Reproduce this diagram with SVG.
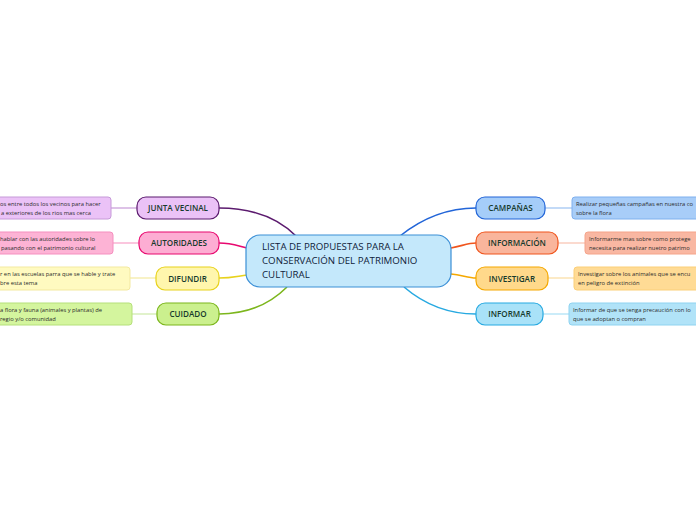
<svg xmlns="http://www.w3.org/2000/svg" width="696" height="520" viewBox="0 0 696 520">
<style>
.lbl{font-family:"Open Sans","Noto Sans","DejaVu Sans",sans-serif;font-size:8.1px;font-weight:600;fill:#163a2c;text-anchor:middle}
.main{font-family:"Open Sans","Noto Sans","DejaVu Sans",sans-serif;font-size:9.7px;font-weight:500;fill:#101c3a}
.leaf{font-family:"Open Sans","Noto Sans","DejaVu Sans",sans-serif;font-size:5.8px;fill:#2a2a2a}
.c{fill:none;stroke-width:1.6}
.lc{fill:none;stroke-width:1.2}
</style>
<rect width="696" height="520" fill="#ffffff"/>
<g id="connectors">
<path class="c" stroke="#5b1a6e" d="M219,208 C255,208 280,220 296,236"/>
<path class="c" stroke="#e8086f" d="M219,243 C232,243 238,246 247,248"/>
<path class="c" stroke="#e8d21c" d="M219,278 C232,278 238,276 247,275"/>
<path class="c" stroke="#7cb61c" d="M219,314 C250,314 272,302 287,287"/>
<path class="c" stroke="#2265d8" d="M400,236 C420,220 445,208 476,208"/>
<path class="c" stroke="#f0551d" d="M451,248 C462,246 468,243 476,243"/>
<path class="c" stroke="#f5a800" d="M451,274 C462,275 468,278 476,278"/>
<path class="c" stroke="#27a9e1" d="M404,287 C425,305 450,314 476,314"/>
<path class="lc" stroke="#c69ad8" d="M111,208 H137"/>
<path class="lc" stroke="#f8a0c8" d="M113,243 H139"/>
<path class="lc" stroke="#f3e9a0" d="M130,278 H156"/>
<path class="lc" stroke="#cde9a8" d="M132,314 H157"/>
<path class="lc" stroke="#9cc2f2" d="M545,208 H572"/>
<path class="lc" stroke="#f8c2b0" d="M558,243 H585"/>
<path class="lc" stroke="#fbdca0" d="M548,278 H574"/>
<path class="lc" stroke="#a8dff5" d="M543,314 H569"/>
</g>
<g id="central">
<rect x="246" y="235" width="205" height="52" rx="14" fill="#c4e8fb" stroke="#3b8fd6" stroke-width="1.2"/>
<text class="main" x="262" y="250">LISTA DE PROPUESTAS PARA LA</text>
<text class="main" x="262" y="264">CONSERVACIÓN DEL PATRIMONIO</text>
<text class="main" x="262" y="278">CULTURAL</text>
</g>
<g id="junta">
<rect x="137" y="197" width="82" height="22" rx="9" fill="#ebc2f7" stroke="#5b1a6e" stroke-width="1.2"/>
<text class="lbl" x="178" y="211">JUNTA VECINAL</text>
</g>
<g id="junta-leaf">
<rect x="-140" y="197" width="251" height="22" rx="3" fill="#ebc2f7" stroke="#c69ad8" stroke-width="1"/>
<text class="leaf" x="0" y="205.5">os entre todos los vecinos para hacer</text>
<text class="leaf" x="1" y="214.5">a exteriores de los rios mas cerca</text>
</g>
<g id="autoridades">
<rect x="139" y="232" width="80" height="22" rx="9" fill="#fdadd3" stroke="#e8086f" stroke-width="1.2"/>
<text class="lbl" x="179" y="246">AUTORIDADES</text>
</g>
<g id="autoridades-leaf">
<rect x="-140" y="232" width="253" height="22" rx="3" fill="#fdb3d5" stroke="#f58fbf" stroke-width="1"/>
<text class="leaf" x="0" y="240.5">hablar con las autoridades sobre lo</text>
<text class="leaf" x="1" y="249.5">pasando con el patrimonio cultural</text>
</g>
<g id="difundir">
<rect x="156" y="267" width="63" height="23" rx="9" fill="#fff6ad" stroke="#e8d21c" stroke-width="1.2"/>
<text class="lbl" x="187.5" y="281.5">DIFUNDIR</text>
</g>
<g id="difundir-leaf">
<rect x="-140" y="267" width="270" height="23" rx="3" fill="#fffac0" stroke="#f3e9a0" stroke-width="1"/>
<text class="leaf" x="0" y="276">r en las escuelas parra que se hable y trate</text>
<text class="leaf" x="0" y="285">bre esta tema</text>
</g>
<g id="cuidado">
<rect x="157" y="303" width="62" height="22" rx="9" fill="#cbf08e" stroke="#7cb61c" stroke-width="1.2"/>
<text class="lbl" x="188" y="317">CUIDADO</text>
</g>
<g id="cuidado-leaf">
<rect x="-140" y="303" width="272" height="22" rx="3" fill="#d4f59e" stroke="#b5e07a" stroke-width="1"/>
<text class="leaf" x="0" y="311.5">a flora y fauna (animales y plantas) de</text>
<text class="leaf" x="0" y="320.5">regio y/o comunidad</text>
</g>
<g id="campanas">
<rect x="476" y="197" width="69" height="22" rx="9" fill="#a5cdf9" stroke="#2265d8" stroke-width="1.2"/>
<text class="lbl" x="510.5" y="211">CAMPAÑAS</text>
</g>
<g id="campanas-leaf">
<rect x="572" y="197" width="160" height="22" rx="3" fill="#a8cdf8" stroke="#7fb0ee" stroke-width="1"/>
<text class="leaf" x="576" y="205.5">Realizar pequeñas campañas en nuestra co</text>
<text class="leaf" x="576" y="214.5">sobre la flora</text>
</g>
<g id="informacion">
<rect x="476" y="232" width="82" height="22" rx="9" fill="#f9b59c" stroke="#f0551d" stroke-width="1.2"/>
<text class="lbl" x="517" y="246">INFORMACIÓN</text>
</g>
<g id="informacion-leaf">
<rect x="585" y="232" width="150" height="22" rx="3" fill="#f9b7a2" stroke="#f5a48a" stroke-width="1"/>
<text class="leaf" x="589" y="240.5">Informarme mas sobre  como protege</text>
<text class="leaf" x="589" y="249.5">necesita para realizar nuetro patrimo</text>
</g>
<g id="investigar">
<rect x="476" y="267" width="72" height="23" rx="9" fill="#ffd98b" stroke="#f5a800" stroke-width="1.2"/>
<text class="lbl" x="512" y="281.5">INVESTIGAR</text>
</g>
<g id="investigar-leaf">
<rect x="574" y="267" width="160" height="23" rx="3" fill="#ffdb95" stroke="#fbcf78" stroke-width="1"/>
<text class="leaf" x="578" y="276">Investigar sobre los animales que se encu</text>
<text class="leaf" x="578" y="285">en peligro de extinción</text>
</g>
<g id="informar">
<rect x="476" y="303" width="67" height="22" rx="9" fill="#a9e2f8" stroke="#27a9e1" stroke-width="1.2"/>
<text class="lbl" x="509.5" y="317">INFORMAR</text>
</g>
<g id="informar-leaf">
<rect x="569" y="303" width="160" height="22" rx="3" fill="#b1e3f8" stroke="#8fd3f0" stroke-width="1"/>
<text class="leaf" x="573" y="311.5">Informar de que se tenga precaución con lo</text>
<text class="leaf" x="573" y="320.5">que se adoptan o compran</text>
</g>
</svg>
